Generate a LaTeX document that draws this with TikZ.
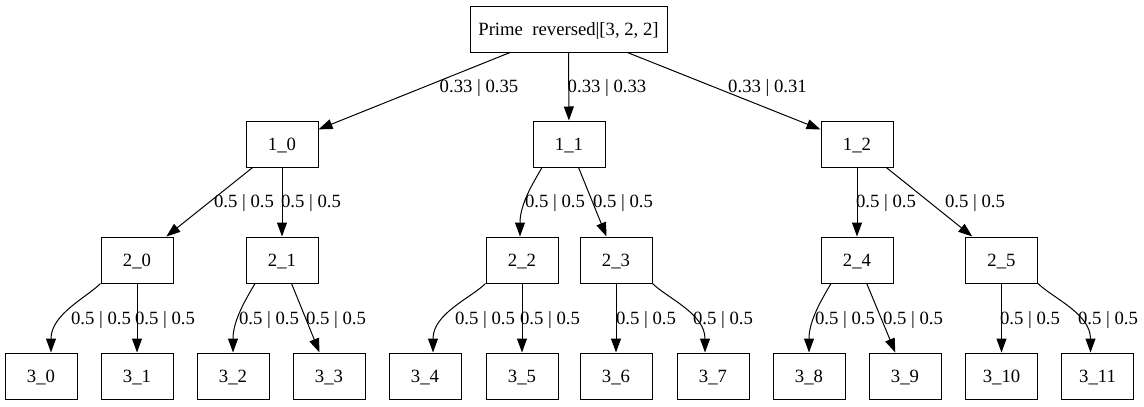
\documentclass[tikz,border=0pt]{standalone}
\usepackage{fontspec}
\setmainfont{Liberation Serif}
\usetikzlibrary{arrows.meta}

\tikzset{
    box/.style={draw, line width=1pt, minimum width=72pt, minimum height=46pt,
        text height=12pt, text depth=0pt, inner sep=0pt,
        font=\fontsize{18.7}{22}\selectfont},
    edge/.style={line width=1pt, -{Triangle[length=14pt,width=10pt]}},
    curvy/.style={out looseness=0.6, in looseness=1.15},
    lbl/.style={anchor=base, inner sep=0pt, font=\fontsize{18.7}{22}\selectfont}
}

\begin{document}
\begin{tikzpicture}[x=1pt, y=1pt]
    \useasboundingbox (0,0) rectangle (1144,-407);

    % Root
    \node[box, minimum width=197pt] (root) at (568.5,-29) {Prime\ \ reversed|[3, 2, 2]};

    % Level 1
    \node[box] (n10) at (282,-144) {1\_0};
    \node[box] (n11) at (569,-144) {1\_1};
    \node[box] (n12) at (857,-144) {1\_2};

    % Level 2
    \node[box] (n20) at (137,-260) {2\_0};
    \node[box] (n21) at (282,-260) {2\_1};
    \node[box] (n22) at (522,-260) {2\_2};
    \node[box] (n23) at (616,-260) {2\_3};
    \node[box] (n24) at (857,-260) {2\_4};
    \node[box] (n25) at (1001.5,-260) {2\_5};

    % Level 3 (leaves)
    \node[box] (n30) at (41,-376) {3\_0};
    \node[box] (n31) at (137,-376) {3\_1};
    \node[box] (n32) at (233,-376) {3\_2};
    \node[box] (n33) at (329,-376) {3\_3};
    \node[box] (n34) at (425,-376) {3\_4};
    \node[box] (n35) at (522,-376) {3\_5};
    \node[box] (n36) at (616,-376) {3\_6};
    \node[box] (n37) at (713,-376) {3\_7};
    \node[box] (n38) at (809,-376) {3\_8};
    \node[box] (n39) at (905,-376) {3\_9};
    \node[box] (n310) at (1001.5,-376) {3\_10};
    \node[box] (n311) at (1097.5,-376) {3\_11};

    % Root to level 1
    \draw[edge] (root) -- (n10) node[lbl] at (479,-92) {0.33 | 0.35};
    \draw[edge] (root) -- (n11) node[lbl] at (607,-92) {0.33 | 0.33};
    \draw[edge] (root) -- (n12) node[lbl] at (767.5,-92) {0.33 | 0.31};

    % Level 1 to level 2
    \draw[edge] (n10) -- (n20) node[lbl] at (244,-207.5) {0.5 | 0.5};
    \draw[edge] (n10) -- (n21) node[lbl] at (311,-207.5) {0.5 | 0.5};
    \draw[edge] ([xshift=-27pt]n11.south) to[out=-120, in=90, curvy] ([xshift=-2pt]n22.north)
        node[lbl] at (555,-207.5) {0.5 | 0.5};
    \draw[edge] (n11) -- (n23) node[lbl] at (623,-207.5) {0.5 | 0.5};
    \draw[edge] (n12) -- (n24) node[lbl] at (886,-207.5) {0.5 | 0.5};
    \draw[edge] (n12) -- (n25) node[lbl] at (975,-207.5) {0.5 | 0.5};

    % Level 2 to level 3
    \draw[edge] (n20.south west) to[out=-135, in=90, curvy] ([xshift=10pt]n30.north)
        node[lbl] at (101,-324.5) {0.5 | 0.5};
    \draw[edge] (n20) -- (n31) node[lbl] at (165,-324.5) {0.5 | 0.5};
    \draw[edge] ([xshift=-27pt]n21.south) to[out=-120, in=90, curvy] (n32.north)
        node[lbl] at (269,-324.5) {0.5 | 0.5};
    \draw[edge] (n21) -- (n33) node[lbl] at (336,-324.5) {0.5 | 0.5};
    \draw[edge] (n22.south west) to[out=-135, in=90, curvy] ([xshift=8pt]n34.north)
        node[lbl] at (485,-324.5) {0.5 | 0.5};
    \draw[edge] (n22) -- (n35) node[lbl] at (550,-324.5) {0.5 | 0.5};
    \draw[edge] (n23) -- (n36) node[lbl] at (646,-324.5) {0.5 | 0.5};
    \draw[edge] (n23.south east) to[out=-45, in=90, curvy] ([xshift=-8pt]n37.north)
        node[lbl] at (723,-324.5) {0.5 | 0.5};
    \draw[edge] ([xshift=-26pt]n24.south) to[out=-120, in=90, curvy] (n38.north)
        node[lbl] at (845,-324.5) {0.5 | 0.5};
    \draw[edge] (n24) -- (n39) node[lbl] at (913,-324.5) {0.5 | 0.5};
    \draw[edge] (n25) -- (n310) node[lbl] at (1030,-324.5) {0.5 | 0.5};
    \draw[edge] (n25.south east) to[out=-45, in=90, curvy] ([xshift=-7pt]n311.north)
        node[lbl] at (1108,-324.5) {0.5 | 0.5};
\end{tikzpicture}
\end{document}
